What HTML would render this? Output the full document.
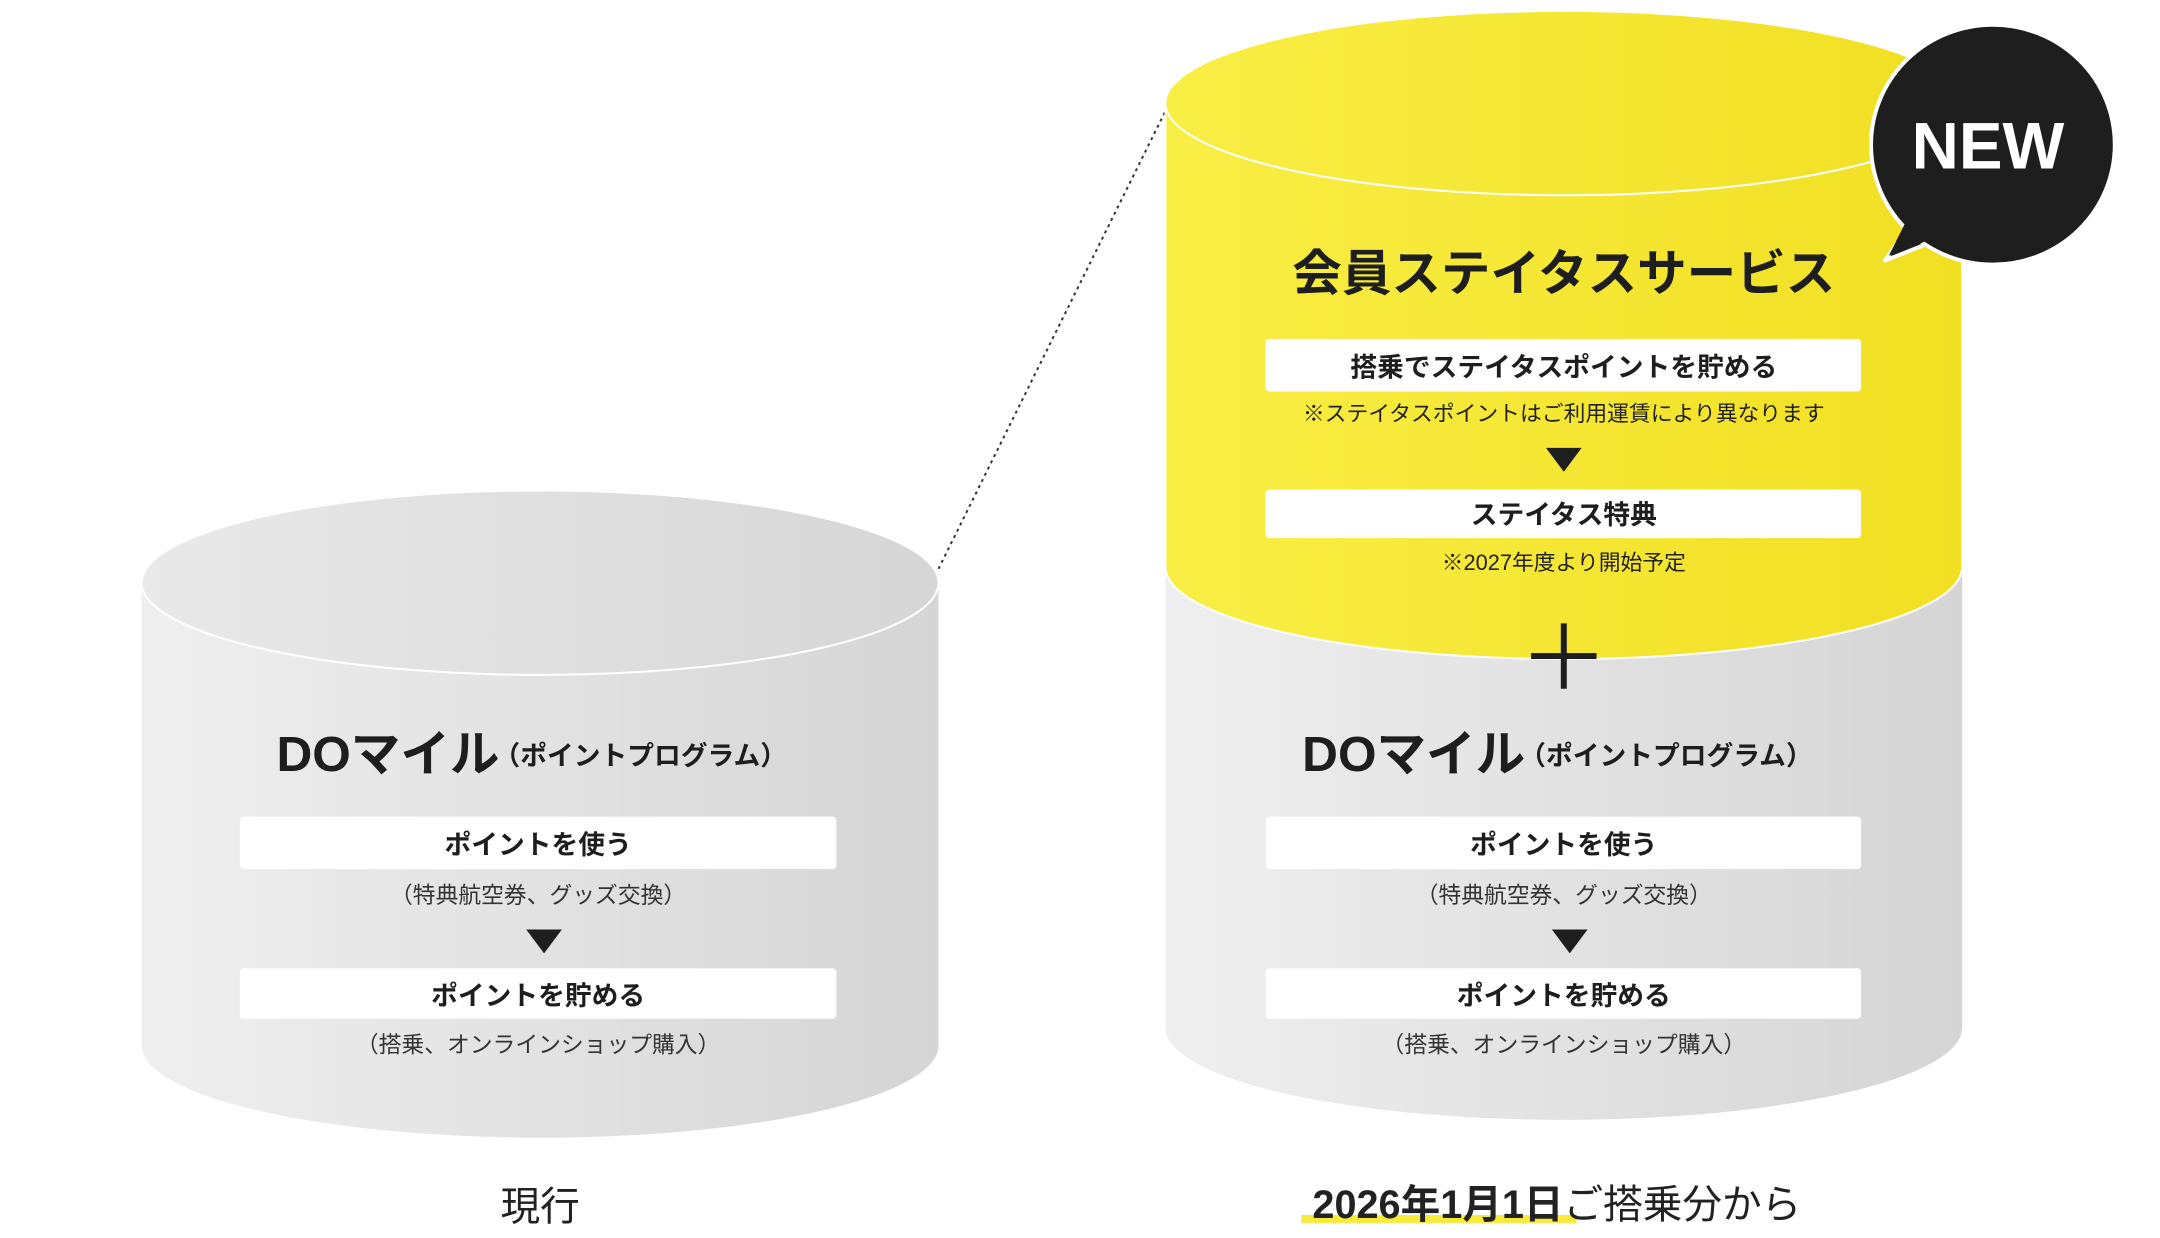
<!DOCTYPE html>
<html><head><meta charset="utf-8"><style>
html,body{margin:0;padding:0;background:#fff;}
svg{display:block;font-family:"Liberation Sans","Noto Sans CJK JP",sans-serif;}
</style></head><body>
<svg width="2160" height="1238" viewBox="0 0 2160 1238" xmlns="http://www.w3.org/2000/svg">
<defs>
<linearGradient id="g1" x1="0" x2="1" y1="0" y2="0"><stop offset="0" stop-color="#efefef"/><stop offset="1" stop-color="#d5d5d5"/></linearGradient>
<linearGradient id="g2" x1="0" x2="1" y1="0" y2="0"><stop offset="0" stop-color="#e9e9e9"/><stop offset="1" stop-color="#d6d6d6"/></linearGradient>
<linearGradient id="y1" x1="0" x2="1" y1="0" y2="0"><stop offset="0" stop-color="#f9ee45"/><stop offset="1" stop-color="#f1df22"/></linearGradient>
</defs>
<g transform="scale(0.991)">
<line x1="947" y1="574" x2="1182" y2="100" stroke="#333" stroke-width="2" stroke-dasharray="3,4"/>

<path d="M143 588 L143 1055 A402 93 0 0 0 947 1055 L947 588 Z" fill="url(#g1)"/>
<ellipse cx="545" cy="588" rx="402" ry="93" fill="url(#g2)" stroke="#fff" stroke-width="2"/>
<text x="279" y="778" font-size="50" font-weight="700" fill="#1e1e1e">DOマイル<tspan font-size="27" dx="-6" dy="-6">（ポイントプログラム）</tspan></text>
<rect x="242" y="824" width="602" height="53" rx="4" fill="#fff"/>
<text x="543" y="862" font-size="27" font-weight="700" fill="#1e1e1e" text-anchor="middle">ポイントを使う</text>
<text x="543" y="911" font-size="23" fill="#333" text-anchor="middle">（特典航空券、グッズ交換）</text>
<polygon points="531,938 567,938 549,962" fill="#1e1e1e"/>
<rect x="242" y="977" width="602" height="51" rx="4" fill="#fff"/>
<text x="543" y="1014" font-size="27" font-weight="700" fill="#1e1e1e" text-anchor="middle">ポイントを貯める</text>
<text x="543" y="1062" font-size="23" fill="#333" text-anchor="middle">（搭乗、オンラインショップ購入）</text>
<text x="545" y="1231" font-size="40" fill="#222" text-anchor="middle">現行</text>

<path d="M1176 560 L1176 1037 A402 93 0 0 0 1980 1037 L1980 560 Z" fill="url(#g1)"/>
<path d="M1176 104 L1176 572 A402 93 0 0 0 1980 572 L1980 104 Z" fill="url(#y1)" stroke="#fff" stroke-width="2"/>
<ellipse cx="1578" cy="104" rx="402" ry="93" fill="url(#y1)" stroke="#fff" stroke-width="2"/>
<text x="1578" y="293" font-size="50" font-weight="700" fill="#1e1e1e" text-anchor="middle">会員ステイタスサービス</text>
<rect x="1277" y="342" width="601" height="53" rx="4" fill="#fff"/>
<text x="1578" y="380" font-size="27" font-weight="700" fill="#1e1e1e" text-anchor="middle">搭乗でステイタスポイントを貯める</text>
<text x="1578" y="425" font-size="22" fill="#222" text-anchor="middle">※ステイタスポイントはご利用運賃により異なります</text>
<polygon points="1560,452 1596,452 1578,476" fill="#1e1e1e"/>
<rect x="1277" y="494" width="601" height="49" rx="4" fill="#fff"/>
<text x="1578" y="529" font-size="27" font-weight="700" fill="#1e1e1e" text-anchor="middle">ステイタス特典</text>
<text x="1578" y="575" font-size="22" fill="#222" text-anchor="middle">※2027年度より開始予定</text>
<rect x="1545" y="659" width="66" height="6" fill="#1e1e1e"/>
<rect x="1575" y="629" width="6" height="66" fill="#1e1e1e"/>
<text x="1314" y="778" font-size="50" font-weight="700" fill="#1e1e1e">DOマイル<tspan font-size="27" dx="-6" dy="-6">（ポイントプログラム）</tspan></text>
<rect x="1277" y="824" width="601" height="53" rx="4" fill="#fff"/>
<text x="1578" y="862" font-size="27" font-weight="700" fill="#1e1e1e" text-anchor="middle">ポイントを使う</text>
<text x="1578" y="911" font-size="23" fill="#333" text-anchor="middle">（特典航空券、グッズ交換）</text>
<polygon points="1566,938 1602,938 1584,962" fill="#1e1e1e"/>
<rect x="1277" y="977" width="601" height="51" rx="4" fill="#fff"/>
<text x="1578" y="1014" font-size="27" font-weight="700" fill="#1e1e1e" text-anchor="middle">ポイントを貯める</text>
<text x="1578" y="1062" font-size="23" fill="#333" text-anchor="middle">（搭乗、オンラインショップ購入）</text>

<rect x="1313" y="1226" width="278" height="8" fill="#f7ea3a"/>
<text x="1571" y="1229" font-size="40" fill="#222" text-anchor="middle"><tspan font-weight="700">2026年1月1日</tspan>ご搭乗分から</text>

<path d="M1935 215 L1902 263 L1960 240 Z" fill="#1e1e1e" stroke="#fff" stroke-width="4" stroke-linejoin="round"/>
<ellipse cx="2011" cy="146" rx="123" ry="121" fill="#1e1e1e" stroke="#fff" stroke-width="4"/>
<path d="M1930 210 L1906 258 L1965 235 Z" fill="#1e1e1e"/>
<text x="2006" y="170" font-size="66" font-weight="700" fill="#fff" text-anchor="middle">NEW</text>
</g>
</svg>
</body></html>
